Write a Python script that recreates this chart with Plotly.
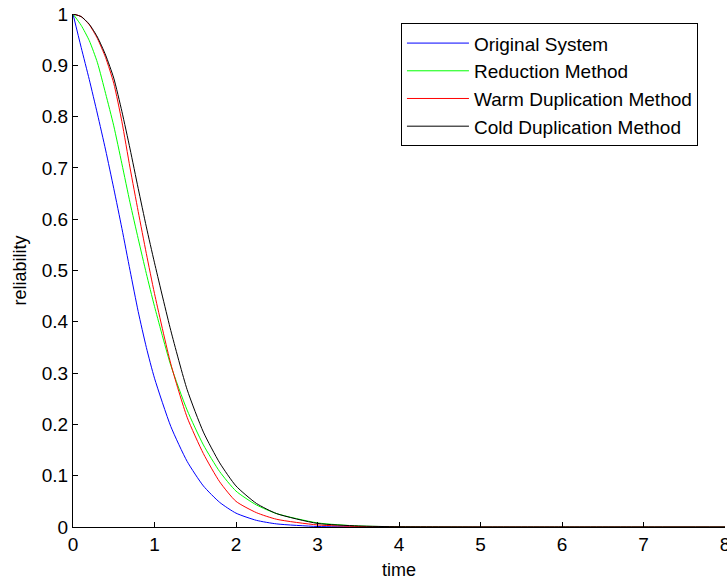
import plotly.graph_objects as go

time = [0, 0.1, 0.2, 0.3, 0.4, 0.5, 0.6, 0.7, 0.8, 0.9, 1.0, 1.2, 1.4, 1.6, 1.8, 2.0, 2.25, 2.5, 3.0, 3.5, 4.0, 5.0, 6.0, 7.0, 8.0]

original = [1.0, 0.935, 0.872, 0.805, 0.735, 0.66, 0.582, 0.5, 0.42, 0.35, 0.29, 0.196, 0.128, 0.08, 0.048, 0.027, 0.013, 0.006, 0.001, 0.0002, 0.0, 0.0, 0.0, 0.0, 0.0]
reduction = [1.0, 0.978, 0.948, 0.905, 0.845, 0.782, 0.708, 0.632, 0.562, 0.494, 0.43, 0.315, 0.228, 0.16, 0.108, 0.07, 0.043, 0.026, 0.008, 0.002, 0.0005, 0.0, 0.0, 0.0, 0.0]
warm = [1.0, 0.995, 0.979, 0.952, 0.915, 0.865, 0.79, 0.70, 0.615, 0.533, 0.455, 0.318, 0.214, 0.143, 0.088, 0.05, 0.028, 0.015, 0.004, 0.001, 0.0002, 0.0, 0.0, 0.0, 0.0]
cold = [1.0, 0.995, 0.98, 0.955, 0.92, 0.875, 0.81, 0.737, 0.66, 0.585, 0.515, 0.383, 0.268, 0.185, 0.125, 0.08, 0.046, 0.026, 0.007, 0.002, 0.0005, 0.0, 0.0, 0.0, 0.0]

names = ["Original System", "Reduction Method", "Warm Duplication Method", "Cold Duplication Method"]
colors = ["#0000ff", "#00ff00", "#ff0000", "#000000"]
series = [original, reduction, warm, cold]

x_ticks = [0, 1, 2, 3, 4, 5, 6, 7, 8]
y_ticks = [0, 0.1, 0.2, 0.3, 0.4, 0.5, 0.6, 0.7, 0.8, 0.9, 1]
y_ticktext = ["0", "0.1", "0.2", "0.3", "0.4", "0.5", "0.6", "0.7", "0.8", "0.9", "1"]

FONT = "Liberation Sans, Arial, sans-serif"

fig = go.Figure()
for name, col, vals in zip(names, colors, series):
    fig.add_trace(go.Scatter(x=time, y=vals, mode="lines", name=name,
                             line=dict(color=col, width=1, shape="spline", smoothing=0.6)))

fig.update_layout(
    width=727, height=580,
    margin=dict(l=73, r=2, t=14, b=53, autoexpand=False),
    paper_bgcolor="white", plot_bgcolor="white",
    font=dict(family=FONT, size=19, color="black"),
    showlegend=True,
    legend=dict(x=0.503, y=0.982, xanchor="left", yanchor="top",
                bgcolor="white", bordercolor="black", borderwidth=1,
                font=dict(family=FONT, size=19, color="black"),
                itemwidth=62, tracegroupgap=0),
    xaxis=dict(range=[0, 8], tickmode="array", tickvals=x_ticks, automargin=False,
               ticks="inside", ticklen=5, tickcolor="black", showline=True, linecolor="black",
               linewidth=1, showgrid=False, zeroline=False, ticklabeloverflow="allow",
               tickfont=dict(size=19),
               title=dict(text="time", font=dict(size=18), standoff=10)),
    yaxis=dict(range=[0, 1], tickmode="array", tickvals=y_ticks, ticktext=y_ticktext, automargin=False,
               ticks="inside", ticklen=5, tickcolor="black", showline=True, linecolor="black",
               linewidth=1, showgrid=False, zeroline=False,
               tickfont=dict(size=19),
               title=dict(text="reliability", font=dict(size=18), standoff=10)),
)

fig.write_html("out.html")
